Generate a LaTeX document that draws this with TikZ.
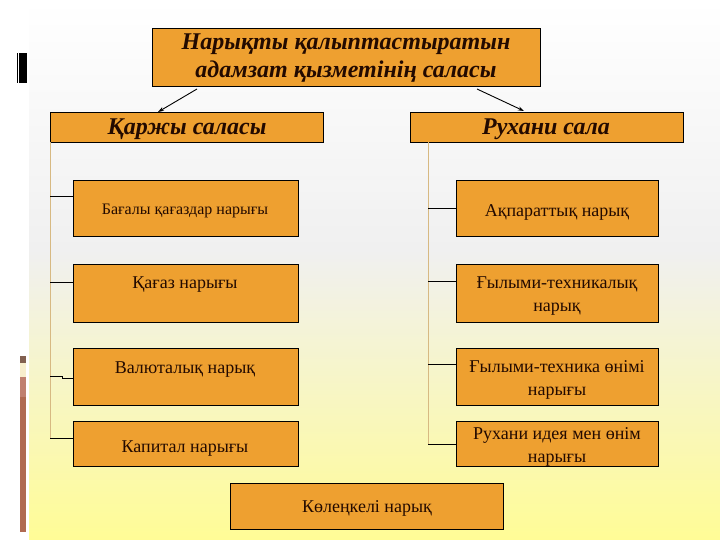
\documentclass[tikz,border=0pt]{standalone}
\usepackage{fontspec}
\usetikzlibrary{arrows.meta}
\setmainfont{Liberation Serif}
\definecolor{boxfill}{RGB}{238,160,48}
\definecolor{txt}{RGB}{35,10,0}
\definecolor{treeline}{RGB}{215,185,130}
\definecolor{bgtop}{RGB}{255,255,255}
\definecolor{bgmid}{RGB}{240,240,240}
\definecolor{bgbot}{RGB}{255,252,150}
\definecolor{barbrown}{RGB}{176,106,82}
\definecolor{bartop}{RGB}{130,96,80}
\definecolor{barcream}{RGB}{248,238,205}
\definecolor{barpink}{RGB}{192,128,112}
\begin{document}
\begin{tikzpicture}[x=1pt,y=-1pt,
  box/.style={draw=black,line width=0.9pt,fill=boxfill,text=txt,inner sep=0pt},
  head/.style={font=\fontsize{24}{28}\selectfont\bfseries\itshape,align=center,text=txt},
  item/.style={font=\fontsize{18}{23}\selectfont,align=center,text=txt},
  branch/.style={draw=black,line width=0.8pt},
  stem/.style={draw=treeline,line width=0.9pt},
  arr/.style={-{Stealth[length=6pt,width=4pt]},line width=0.9pt}]
\useasboundingbox (0,0) rectangle (720,540);
% background
\fill[white] (0,0) rectangle (720,540);
\shade[top color=bgtop,bottom color=bgmid] (29,0) rectangle (720,250);
\shade[top color=bgmid,bottom color=bgbot] (29,250) rectangle (720,540);
% left decorations
\fill[black] (16.5,53) rectangle (17.5,83);
\fill[black] (19,53) rectangle (27,83);
\fill[barbrown] (20,397) rectangle (26,532);
\fill[bartop] (20,356) rectangle (26,363);
\fill[barcream] (20,363) rectangle (26,377);
\fill[barpink] (20,377) rectangle (26,397);
% boxes
\draw[box] (152,28) rectangle (540,86);
\node[head] (top) at (346,58) {Нарықты қалыптастыратын\\адамзат қызметінің саласы};
\coordinate (topL) at (197,89);
\coordinate (topR) at (477,89);
\draw[box] (50,112) rectangle (323,142);
\node[head] (fin) at (187,129) {Қаржы саласы};
\draw[box] (410,112) rectangle (683,142);
\node[head] (spi) at (546,129) {Рухани сала};
\coordinate (finT) at (158,112);
\coordinate (spiT) at (524,111);
\draw[arr] (topL) -- (finT);
\draw[arr] (topR) -- (spiT);
% left column
\draw[box] (73,180) rectangle (298,236);
\node[item,font=\fontsize{16}{22}\selectfont] (l1) at (185,211) {Бағалы қағаздар нарығы};
\draw[box] (73,264) rectangle (298,322);
\node[item] (l2) at (185,285) {Қағаз нарығы};
\draw[box] (73,348) rectangle (298,405);
\node[item] (l3) at (185,370) {Валюталық нарық};
\draw[box] (73,421) rectangle (298,466);
\node[item] (l4) at (185,449) {Капитал нарығы};
\coordinate (lS) at (50,142);
\coordinate (lE) at (50,438);
\draw[stem] (lS) -- (lE);
\draw[branch] (50,196) -- (73,196);
\draw[branch] (50,282) -- (73,282);
\draw[branch] (50,376) -- (62,376) -- (62,378) -- (73,378);
\draw[branch] (50,438) -- (73,438);
% right column
\draw[box] (456,180) rectangle (658,236);
\node[item] (r1) at (557,212) {Ақпараттық нарық};
\draw[box] (456,264) rectangle (658,322);
\node[item] (r2) at (557,296) {Ғылыми-техникалық\\нарық};
\draw[box] (456,348) rectangle (658,405);
\node[item] (r3) at (557,380) {Ғылыми-техника өнімі\\нарығы};
\draw[box] (456,421) rectangle (658,466);
\node[item] (r4) at (557,447) {Рухани идея мен өнім\\нарығы};
\draw[stem] (428,142) -- (428,444);
\draw[branch] (428,208) -- (456,208);
\draw[branch] (428,281) -- (456,281);
\draw[branch] (428,364) -- (456,364);
\draw[branch] (428,444) -- (456,444);
% bottom
\draw[box] (230,483) rectangle (503,529);
\node[item] (bot) at (367,508) {Көлеңкелі нарық};
\end{tikzpicture}
\end{document}
